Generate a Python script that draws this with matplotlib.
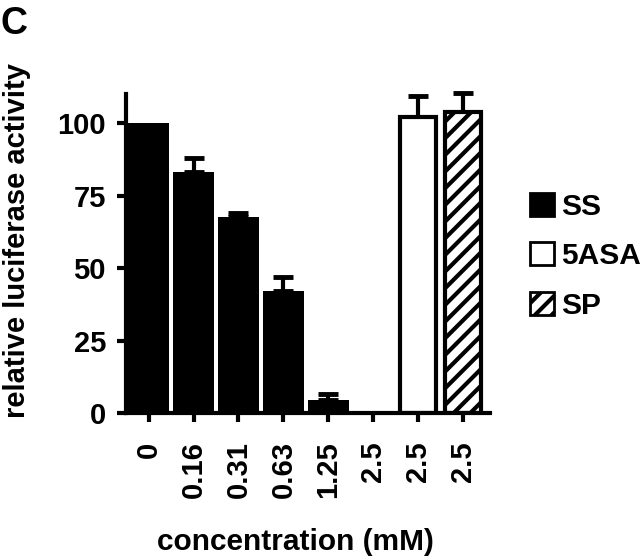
import matplotlib
matplotlib.use("Agg")
import matplotlib.pyplot as plt
from matplotlib.patches import Patch
import numpy as np

plt.rcParams["font.family"] = ["Liberation Sans", "DejaVu Sans"]
plt.rcParams["font.weight"] = "bold"
plt.rcParams["hatch.linewidth"] = 3.0

# data
conc_labels = ["0", "0.16", "0.31", "0.63", "1.25", "2.5", "2.5", "2.5"]
activity = [100, 83, 67.5, 42, 4.5, 0.5, 102, 104]
sem = [0, 5, 1.5, 5, 2, 0, 7.5, 6.5]
drug = ["SS", "SS", "SS", "SS", "SS", "SS", "5ASA", "SP"]

STYLE = {
    "SS": dict(facecolor="black", hatch=None, lw=0, width=0.9),
    "5ASA": dict(facecolor="white", hatch=None, lw=3, width=0.8),
    "SP": dict(facecolor="white", hatch="//", lw=3, width=0.8),
}

fig = plt.figure(figsize=(6.4, 5.57), dpi=100)
ax = fig.add_axes([0.197, 0.2585, 0.569, 0.5725])

x = np.arange(len(activity))
for xi, v, d in zip(x, activity, drug):
    st = STYLE[d]
    ax.bar(xi, v, width=st["width"], facecolor=st["facecolor"], edgecolor="black",
           linewidth=st["lw"], hatch=st["hatch"], zorder=2)

err = np.array(sem)
m = err > 0
ax.errorbar(x[m], np.array(activity)[m], yerr=[np.zeros(m.sum()), err[m]],
            fmt="none", ecolor="black", elinewidth=3, capsize=7.5, capthick=3.5,
            zorder=1, clip_on=False)

ax.set_xlim(-0.5, 7.6)
ax.set_ylim(0, 110)
ax.set_yticks([0, 25, 50, 75, 100])
ax.set_xticks(x)
ax.set_xticklabels(conc_labels, rotation=90)
for s in ["top", "right"]:
    ax.spines[s].set_visible(False)
for s in ["left", "bottom"]:
    ax.spines[s].set_linewidth(3)
ax.tick_params(axis="both", direction="out", length=6.5, width=3, labelsize=21)
ax.tick_params(axis="y", pad=8)
ax.tick_params(axis="x", pad=14)

ax.set_ylabel("relative luciferase activity", fontsize=21, fontweight="bold")
ax.yaxis.set_label_coords(-0.262, 0.54)
ax.set_xlabel("concentration (mM)", fontsize=21.5, fontweight="bold")
ax.xaxis.set_label_coords(0.464, -0.36)

handles = [Patch(facecolor=STYLE[k]["facecolor"], edgecolor="black", linewidth=2,
                 hatch=STYLE[k]["hatch"], label=k) for k in ["SS", "5ASA", "SP"]]
fig.legend(handles=handles, loc="center left", bbox_to_anchor=(0.828, 0.54),
           frameon=False, fontsize=21.5, handlelength=0.8, handleheight=0.8,
           handletextpad=0.25, labelspacing=0.72, borderaxespad=0, borderpad=0)

fig.text(0.0, 0.99, "C", fontsize=27, fontweight="bold", ha="left", va="top")

fig.savefig("out.png", dpi=100, facecolor="white")
